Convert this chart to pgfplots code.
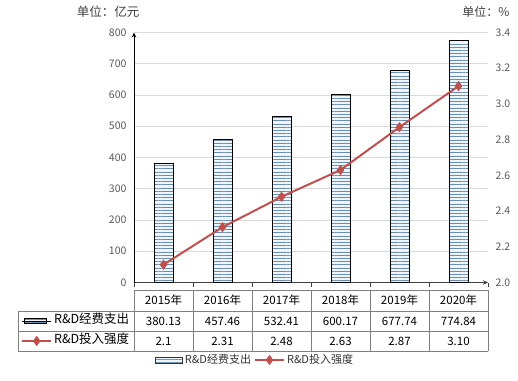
\documentclass[border=0pt]{standalone}
\usepackage{fontspec}
\setmainfont{Noto Sans CJK SC}
\usepackage{pgfplots}
\pgfplotsset{compat=1.18}
\usetikzlibrary{patterns.meta,arrows.meta}
\definecolor{barline}{HTML}{6A8CAD}
\definecolor{barfill}{HTML}{EEF4FA}
\definecolor{redline}{HTML}{C0504D}
\definecolor{tickgray}{HTML}{595959}
\definecolor{gridgray}{HTML}{D9D9D9}
\definecolor{tablegray}{HTML}{7F7F7F}
\pgfplotsset{
  barlegA/.style={legend image code/.code={\draw[##1, line width=0.8pt] (2pt,-2.5pt) rectangle (24pt,2.5pt); \path (0pt,0pt) -- (29pt,0pt);}},
  barlegB/.style={legend image code/.code={\draw[##1] (0pt,-3pt) rectangle (27pt,3pt);}},
  lineleg/.style={legend image code/.code={\draw[##1, mark repeat=2, mark phase=2] plot coordinates {(0pt,0pt) (14.5pt,0pt) (29pt,0pt)};}},
}
\begin{document}
\begin{tikzpicture}[x=1pt,y=1pt]
\path[use as bounding box] (0,0) rectangle (518,380);
\begin{axis}[
  at={(134pt,97.5pt)}, anchor=south west,
  width=354pt, height=250pt, scale only axis,
  xmin=-0.5, xmax=5.5, ymin=0, ymax=800,
  axis x line=bottom, axis y line=left,
  x axis line style={draw=black!75, line width=0.9pt, -{Stealth[length=5pt,width=4.5pt]}},
  y axis line style={draw=black, line width=0.9pt, -{Stealth[length=5pt,width=4.5pt]}},
  xtick={-0.5,0.5,1.5,2.5,3.5,4.5,5.5}, xticklabels={},
  tick align=outside, major tick length=4pt,
  xtick style={draw=black!75, line width=0.8pt},
  ytick={0,100,...,800}, ytick style={draw=none},
  yticklabel style={font=\fontsize{10.5}{12}\selectfont, text=tickgray},
  /pgf/number format/assume math mode=true,
  ymajorgrids, grid style={gridgray, line width=0.8pt},
  legend style={at={(-0.3192,-0.194)}, anchor=west, draw=none, fill=none,
    inner sep=0pt, row sep=9pt,
    font=\fontsize{12.5}{14}\selectfont,
    nodes={inner xsep=2pt, inner ysep=0pt, text height=8pt, text depth=3pt}},
  legend cell align=left,
]
\addplot[ybar, bar width=19pt, draw=black, line width=1pt, fill=barfill,
  postaction={pattern={Lines[angle=0,distance=3.2pt,line width=0.8pt]}, pattern color=barline}, barlegA]
  coordinates {(0,380.13) (1,457.46) (2,532.41) (3,600.17) (4,677.74) (5,774.84)};
\addlegendentry{R\&D经费支出}
\addlegendimage{redline, line width=2pt, mark=diamond*, mark size=3.5pt, mark options={fill=redline, draw=redline}, lineleg}
\addlegendentry{R\&D投入强度}
\end{axis}
\begin{axis}[
  at={(134pt,97.5pt)}, anchor=south west,
  width=354pt, height=250pt, scale only axis,
  xmin=-0.5, xmax=5.5, ymin=2, ymax=3.4,
  axis x line=none, axis y line=right,
  y axis line style={draw=none},
  ytick={2.0,2.2,2.4,2.6,2.8,3.0,3.2,3.4}, ytick style={draw=none},
  yticklabel style={font=\fontsize{10.5}{12}\selectfont, text=tickgray, xshift=2pt,
    /pgf/number format/.cd, fixed, fixed zerofill, precision=1},
  /pgf/number format/assume math mode=true,
  legend columns=2,
  legend style={at={(0.0593,-0.31)}, anchor=west, draw=none, fill=none,
    inner sep=0pt, font=\fontsize{11}{12}\selectfont, text=black!80,
    nodes={inner xsep=2pt, inner ysep=0pt},
    /tikz/every even column/.append style={column sep=1pt}},
]
\addlegendimage{draw=black!80, line width=0.8pt, fill=barfill,
  postaction={pattern={Lines[angle=0,distance=3pt,line width=0.6pt]}, pattern color=barline}, barlegB}
\addlegendentry{R\&D经费支出}
\addplot[redline, line width=2pt, mark=diamond*, mark size=3.5pt, mark options={fill=redline, draw=redline}, lineleg]
  coordinates {(0,2.1) (1,2.31) (2,2.48) (3,2.63) (4,2.87) (5,3.10)};
\addlegendentry{R\&D投入强度}
\end{axis}
% units
\node[font=\fontsize{12.5}{14}\selectfont, text=black!75] at (108,368) {单位：亿元};
\node[font=\fontsize{12}{14}\selectfont, text=black!75] at (486,368) {单位：\%};
% table grid
\draw[tablegray, line width=0.8pt] (134,90) -- (488,90);
\draw[tablegray, line width=0.8pt] (18,69) -- (488,69);
\draw[tablegray, line width=0.8pt] (18,49) -- (488,49);
\draw[tablegray, line width=0.8pt] (18,29) -- (488,29);
\draw[tablegray, line width=0.8pt] (18,69) -- (18,29);
\foreach \k in {0,...,6} {\draw[tablegray, line width=0.8pt] ({134+59*\k},90) -- ({134+59*\k},29);}
% table text
\foreach \i/\yr/\a/\b in {0/2015/380.13/2.1, 1/2016/457.46/2.31, 2/2017/532.41/2.48, 3/2018/600.17/2.63, 4/2019/677.74/2.87, 5/2020/774.84/3.10} {
  \node[font=\fontsize{11.5}{13}\selectfont] at ({163.5+59*\i},79.5) {{\yr}年};
  \node[font=\fontsize{11.5}{13}\selectfont] at ({163.5+59*\i},59) {\a};
  \node[font=\fontsize{11.5}{13}\selectfont] at ({163.5+59*\i},39) {\b};
}
\end{tikzpicture}
\end{document}
